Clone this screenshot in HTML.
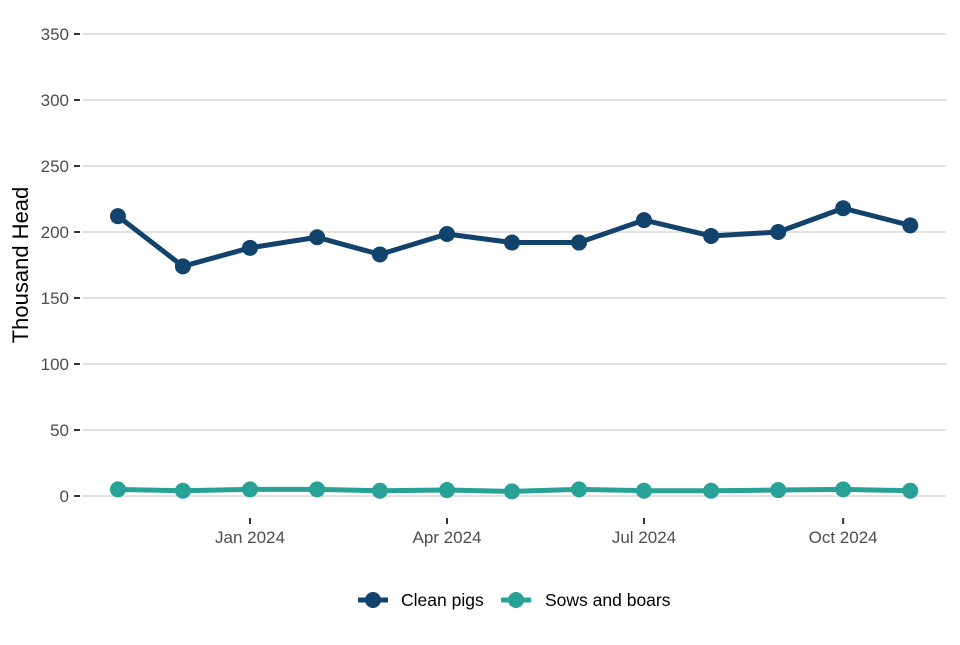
<!DOCTYPE html>
<html><head><meta charset="utf-8"><style>
body{margin:0;background:#fff;}
svg text{font-family:"Liberation Sans",Arial,sans-serif;}
</style></head><body>
<svg id="chart" width="960" height="640" xmlns="http://www.w3.org/2000/svg">
<g id="grid"></g>
<g id="yaxis"></g>
<g id="xaxis"></g>
<g id="series"></g>
<text transform="translate(28,265) rotate(-90)" text-anchor="middle" font-size="22" fill="#000">Thousand Head</text>
<g>
 <g>
  <line x1="358" y1="600" x2="388" y2="600" stroke="#12436D" stroke-width="5"/>
  <circle cx="373" cy="600" r="8" fill="#12436D"/>
  <text x="401" y="606" font-size="17.5" fill="#000">Clean pigs</text>
 </g>
 <g>
  <line x1="501" y1="600" x2="531" y2="600" stroke="#28A197" stroke-width="5"/>
  <circle cx="516" cy="600" r="8" fill="#28A197"/>
  <text x="545" y="606" font-size="17.5" fill="#000">Sows and boars</text>
 </g>
</g>
</svg>
<script>
const dates = ["2023-11-01","2023-12-01","2024-01-01","2024-02-01","2024-03-01","2024-04-01","2024-05-01","2024-06-01","2024-07-01","2024-08-01","2024-09-01","2024-10-01","2024-11-01"];
const cleanPigs = [212,174,188,196,183,198.5,192,192,209,197,200,218,205];
const sowsBoars = [5,4,5,5,4,4.5,3.5,5,4,4,4.5,5,4];
const yTicks = [0,50,100,150,200,250,300,350];
const xTickDates = ["2024-01-01","2024-04-01","2024-07-01","2024-10-01"];
const xTickLabels = ["Jan 2024","Apr 2024","Jul 2024","Oct 2024"];

const NS="http://www.w3.org/2000/svg";
const day=86400000, t0=Date.parse("2024-01-01");
function x(d){return 250+(Date.parse(d)-t0)/day*2.1648;}
function y(v){return 496-v*1.32;}
function mk(tag,attrs,parent){const e=document.createElementNS(NS,tag);for(const k in attrs)e.setAttribute(k,attrs[k]);parent.appendChild(e);return e;}
const grid=document.getElementById('grid'),ya=document.getElementById('yaxis'),xa=document.getElementById('xaxis'),ser=document.getElementById('series');
yTicks.forEach(v=>{
 const g=mk('line',{x1:82,x2:946,y1:y(v),y2:y(v),stroke:'#e3e3e3','stroke-width':2},grid);
 
 
 const t=mk('line',{x1:74,x2:80,y1:y(v),y2:y(v),stroke:'#333','stroke-width':2},ya);
 
 
 const l=mk('text',{x:69,y:y(v)+6,'text-anchor':'end','font-size':17,fill:'#4d4d4d'},ya);
 l.textContent=v;
 
 
});
xTickDates.forEach((d,i)=>{
 const t=mk('line',{x1:x(d),x2:x(d),y1:518,y2:524,stroke:'#333','stroke-width':2},xa);
 
 
 const l=mk('text',{x:x(d),y:543,'text-anchor':'middle','font-size':17,fill:'#4d4d4d'},xa);
 l.textContent=xTickLabels[i];
 
 
});
function draw(vals,color,name){
 const p=mk('polyline',{points:vals.map((v,i)=>x(dates[i])+','+y(v)).join(' '),fill:'none',stroke:color,'stroke-width':5,'stroke-linejoin':'round'},ser);
 
 
 vals.forEach((v,i)=>{
  const c=mk('circle',{cx:x(dates[i]),cy:y(v),r:8,fill:color},ser);
  
  
 });
}
draw(sowsBoars,'#28A197','sows-and-boars');
draw(cleanPigs,'#12436D','clean-pigs');
</script>
</body></html>
